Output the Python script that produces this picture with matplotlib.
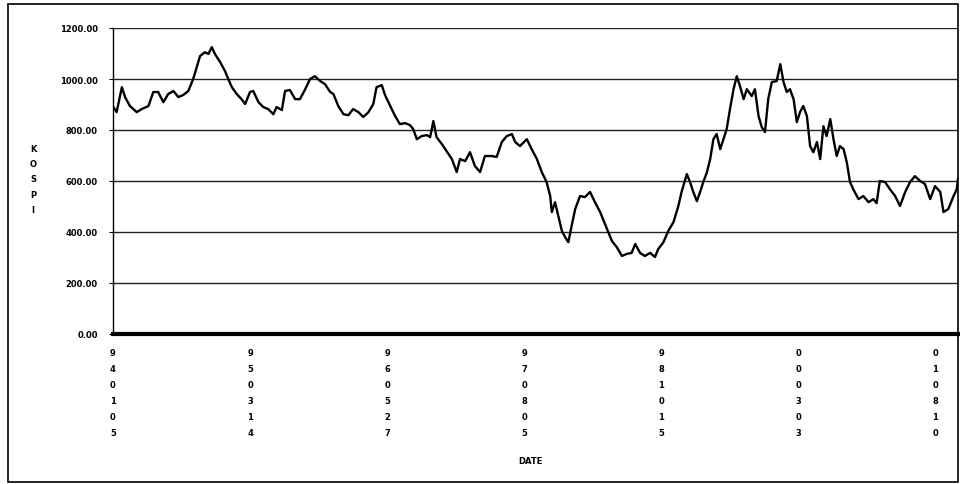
import numpy as np
import matplotlib.pyplot as plt
from matplotlib.patches import Rectangle

# trading-day offset from 94-01-05 and KOSPI close at that day
day = [1, 9, 22, 30, 42, 59, 71, 88, 100, 112,
       125, 137, 150, 162, 174, 187, 199, 208, 216, 228,
       237, 245, 253, 266, 278, 286, 295, 307, 319, 328,
       340, 348, 361, 373, 385, 398, 406, 419, 427, 439,
       452, 464, 477, 489, 501, 514, 526, 539, 547, 559,
       572, 584, 596, 609, 621, 634, 646, 654, 667, 675,
       688, 700, 712, 725, 737, 745, 754, 766, 779, 787,
       795, 803, 816, 828, 841, 853, 861, 874, 886, 898,
       911, 923, 940, 952, 965, 977, 990, 998,
       1010, 1027, 1039, 1052, 1064, 1076, 1085, 1089, 1097, 1105,
       1114, 1122, 1130, 1138, 1147, 1159, 1171, 1184, 1196, 1209,
       1221, 1229, 1238, 1250, 1263, 1275, 1287, 1296, 1308, 1320,
       1333, 1345, 1353, 1366, 1378, 1391, 1403, 1411, 1424, 1432,
       1440, 1449, 1457, 1465, 1474, 1482, 1490, 1498, 1507, 1515,
       1523, 1532, 1540, 1548, 1556, 1565, 1573, 1585, 1593, 1602,
       1610, 1618, 1626, 1635, 1647, 1656, 1664, 1672, 1680, 1689,
       1697, 1705, 1713, 1722, 1730, 1738, 1747, 1755, 1763, 1771,
       1780, 1788, 1796, 1804, 1813, 1821, 1829, 1837, 1850, 1862,
       1875, 1887, 1895, 1903, 1916, 1928, 1941, 1953, 1966, 1978,
       1990, 2003, 2015, 2028, 2040, 2053, 2061, 2073, 2086, 2094,
       2097]

kospi = [890, 870, 968, 929, 894, 870, 882, 894, 949, 949,
         909, 941, 953, 929, 937, 953, 1000, 1047, 1090, 1105,
         1098, 1125, 1098, 1066, 1031, 1000, 968, 941, 921, 902,
         949, 953, 909, 890, 882, 862, 890, 878, 953, 957,
         921, 921, 960, 1000, 1011, 992, 980, 949, 941, 894,
         862, 858, 882, 870, 851, 870, 902, 968, 976, 937,
         894, 855, 823, 827, 819, 804, 764, 776, 780, 772,
         835, 772, 745, 717, 686, 635, 686, 678, 713, 659,
         635, 698, 698, 694, 753, 776, 784, 753,
         737, 764, 725, 686, 635, 596, 541, 478, 517, 463,
         404, 380, 360, 423, 490, 541, 537, 557, 517, 478,
         431, 400, 365, 341, 306, 314, 318, 353, 318, 306,
         318, 302, 333, 360, 404, 439, 502, 557, 627, 596,
         557, 521, 557, 596, 635, 686, 764, 784, 725, 764,
         804, 890, 960, 1011, 972, 921, 960, 933, 960, 855,
         811, 792, 921, 988, 992, 1058, 988, 949, 960, 921,
         831, 870, 894, 855, 737, 713, 753, 686, 815, 776,
         843, 764, 698, 737, 725, 674, 596, 568, 529, 541,
         517, 529, 513, 600, 596, 568, 541, 502, 557, 596,
         619, 600, 588, 529, 580, 557, 478, 490, 541, 568,
         608]

date_labels = ['940105', '950314', '960527', '970805', '981015', '000303', '010810']
tick_step = 340
y_ticks = [0, 200, 400, 600, 800, 1000, 1200]

fig = plt.figure(figsize=(9.6, 4.85), dpi=100)
fig.patches.append(Rectangle((8 / 960, 2 / 485), 950 / 960, 478 / 485,
                             transform=fig.transFigure, fill=False,
                             edgecolor='black', linewidth=1.2))

ax = fig.add_axes([113 / 960, 150 / 485, 845 / 960, 306 / 485])
ax.plot(day, kospi, color='black', linewidth=1.7)

ax.set_xlim(0, 2097)
ax.set_ylim(0, 1200)
ax.set_yticks(y_ticks)
ax.set_yticklabels(['%.2f' % v for v in y_ticks], fontsize=6, fontweight='bold')
ax.yaxis.grid(True, color='#222222', linewidth=1.0)
ax.set_axisbelow(True)

ax.set_xticks([i * tick_step for i in range(len(date_labels))])
ax.set_xticklabels(['\n'.join(s) for s in date_labels], fontsize=6,
                   fontweight='bold', linespacing=2.0, va='top')
ax.tick_params(axis='x', length=0, pad=10)
ax.tick_params(axis='y', length=3, width=0.8, pad=8)

for side in ['top', 'right']:
    ax.spines[side].set_visible(False)
ax.spines['left'].set_linewidth(1.0)
ax.spines['bottom'].set_linewidth(3.0)

fig.text(530 / 960, 1 - 462 / 485, 'DATE', fontsize=6, fontweight='bold',
         ha='center', va='center')
fig.text(33 / 960, 1 - 180 / 485, '\n'.join('KOSPI'), fontsize=6,
         fontweight='bold', ha='center', va='center', linespacing=1.9)

fig.savefig('out.png', dpi=100)
